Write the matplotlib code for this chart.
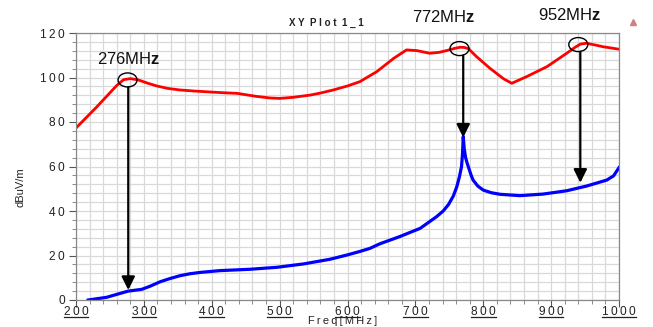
import matplotlib
matplotlib.use("Agg")
import matplotlib.pyplot as plt
from matplotlib.patches import Ellipse
from matplotlib.lines import Line2D
from matplotlib.ticker import MultipleLocator, FixedLocator

plt.rcParams['font.family'] = ['Liberation Sans', 'DejaVu Sans']
plt.rcParams['mathtext.fontset'] = 'custom'
plt.rcParams['mathtext.rm'] = 'Liberation Sans'
plt.rcParams['mathtext.bf'] = 'Liberation Sans:bold'
plt.rcParams['mathtext.it'] = 'Liberation Sans:italic'

# ---- data ----
freq_red = [200, 230, 260, 270, 280, 292, 305, 319, 335, 353, 375, 397, 420, 437, 466,
            486, 500, 520, 545, 560, 579, 600, 618, 643, 668, 687, 702, 721, 735,
            746, 758, 766, 772, 778, 790, 810, 830, 842, 864, 894, 923, 935, 943,
            952, 965, 977, 990, 1000]
level_red = [77.3, 86.6, 96.4, 99.0, 99.5, 98.9, 97.5, 96.2, 95.1, 94.4, 93.9, 93.5,
             93.1, 92.9, 91.5, 90.8, 90.6, 91.1, 92.1, 93.0, 94.4, 96.2, 98.1, 102.6,
             108.6, 112.4, 112.1, 110.9, 111.3, 112.1, 113.1, 113.6, 113.5, 113.0,
             109.4, 104.1, 99.4, 97.4, 100.4, 104.9, 110.9, 113.5, 115.0, 115.4,
             114.6, 113.8, 113.2, 112.7]

freq_blue = [218, 245, 262, 277, 297, 310, 324, 338, 353, 368, 383, 412, 456, 496,
             535, 574, 599, 618, 633, 648, 677, 707, 731, 741, 749, 756, 761, 765,
             768, 769.5, 770.5, 772, 774, 776, 778, 782, 785, 792, 800, 812, 825,
             854, 888, 923, 952, 982, 992, 1000]
level_blue = [0.0, 1.2, 2.7, 4.0, 4.8, 6.3, 8.2, 9.6, 10.9, 11.8, 12.4, 13.2, 13.8,
              14.7, 16.2, 18.3, 20.2, 21.8, 23.2, 25.3, 28.5, 32.2, 37.4, 40.0, 43.0,
              46.8, 50.9, 55.5, 60.0, 66.0, 73.4, 68.0, 64.0, 61.8, 59.9, 56.2, 53.9,
              51.2, 49.4, 48.2, 47.5, 46.9, 47.6, 49.1, 51.2, 53.9, 55.8, 59.5]

marker_labels = ["276MH", "772MH", "952MH"]
marker_freqs = [277, 770.5, 943]
marker_circle_x = [276, 765, 940]
marker_circle_y = [98.9, 113.0, 114.8]
marker_tip_y = [4.5, 73.0, 52.7]

x_ticks = [200, 300, 400, 500, 600, 700, 800, 900, 1000]
y_ticks = [0, 20, 40, 60, 80, 100, 120]

TS = '\u2009'  # thin space for the wide tick lettering


def spaced(s):
    return TS.join(list(s))


W, H = 653, 327
fig = plt.figure(figsize=(W / 100, H / 100), dpi=100)
ax = fig.add_axes([76 / W, 27 / H, 543 / W, 267 / H])

ax.set_xlim(200, 1000)
ax.set_ylim(0, 120)

# grid
ax.xaxis.set_major_locator(FixedLocator(x_ticks))
ax.yaxis.set_major_locator(FixedLocator(y_ticks))
ax.xaxis.set_minor_locator(MultipleLocator(20))
ax.yaxis.set_minor_locator(MultipleLocator(4))
ax.grid(which='both', color='#d9d9d9', linewidth=0.9)
ax.set_axisbelow(True)

ax.set_xticklabels([spaced(str(t)) for t in x_ticks])
ax.set_yticklabels([spaced(str(t)) for t in y_ticks])
ax.tick_params(axis='both', which='major', labelsize=8.6, color='#555555',
               length=5, width=0.8, direction='out', pad=-0.5)
ax.tick_params(axis='y', which='major', pad=3)
ax.tick_params(axis='both', which='minor', color='#777777', length=3, width=0.6,
               direction='out')
for lab in ax.get_xticklabels() + ax.get_yticklabels():
    lab.set_color('#222222')

for s in ax.spines.values():
    s.set_color('#888888')
    s.set_linewidth(0.9)

# curves
ax.plot(freq_red, level_red, color='#ff0000', lw=2.0, solid_joinstyle='round')
ax.plot(freq_blue, level_blue, color='#0000ff', lw=2.3, solid_joinstyle='round')

# markers
for lab, fx, cx, cy, ty in zip(marker_labels, marker_freqs, marker_circle_x,
                               marker_circle_y, marker_tip_y):
    ax.add_patch(Ellipse((cx, cy), width=28, height=6.3, fill=False,
                         edgecolor='black', lw=1.0, zorder=5))
    ax.annotate('', xy=(fx, ty), xytext=(fx, cy - 3.2),
                arrowprops=dict(arrowstyle='-|>', color='black', lw=1.6,
                                mutation_scale=20, shrinkA=0, shrinkB=0),
                zorder=6)

# marker labels (pixel positions)
label_pos = [(129, 59), (443, 17), (570, 15)]
for lab, (px, py) in zip(marker_labels, label_pos):
    fig.text(px / W, 1 - py / H, lab + r'$\mathbf{z}$', ha='center', va='center',
             fontsize=12, color='#111111')

fig.text(326 / W, 1 - 23 / H, 'X Y  P l o t  1 _ 1', ha='center', va='center',
         fontsize=7, color='#222222', fontweight='bold')
fig.text(20 / W, 1 - 187 / H, 'dBuV/m', rotation=90, ha='center', va='center',
         fontsize=8, color='#222222')
fig.text(343 / W, 0.5 / H, spaced('Freq[MHz]'), ha='center', va='bottom',
         fontsize=7.9, color='#222222')

fig.add_artist(Line2D([633 / W], [1 - 22 / H], marker='^', markersize=4,
                      color='#d08080', transform=fig.transFigure))

# underline x tick labels
fig.canvas.draw()
renderer = fig.canvas.get_renderer()
for lab in ax.get_xticklabels():
    bb = lab.get_window_extent(renderer)
    y = bb.y0 + 1.2
    fig.add_artist(Line2D([bb.x0 / W, bb.x1 / W], [y / H, y / H],
                          color='#222222', lw=0.9, transform=fig.transFigure))

fig.savefig('out.png', dpi=100)
